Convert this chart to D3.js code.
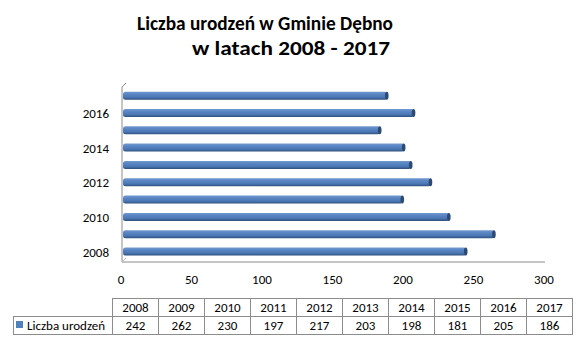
<!DOCTYPE html>
<html lang="pl">
<head>
<meta charset="UTF-8">
<title>Liczba urodzeń w Gminie Dębno</title>
<script src="https://cdn.jsdelivr.net/npm/d3@7"></script>
<style>
  body { margin: 0; background: #fff; }
  text { font-family: Carlito, Lato, "Liberation Sans", sans-serif; fill: #000; }
</style>
</head>
<body>
<div id="chart"></div>
<script>
    // Data
    const years = ["2008", "2009", "2010", "2011", "2012", "2013", "2014", "2015", "2016", "2017"];
    const births = [242, 262, 230, 197, 217, 203, 198, 181, 205, 186];
    const xTicks = [0, 50, 100, 150, 200, 250, 300];
    const yLabels = ["2008", "2010", "2012", "2014", "2016"];
    const seriesName = "Liczba urodzeń";

    const W = 586, H = 350;
    const fs = 13;
    const svg = d3.select("#chart").append("svg")
        .attr("width", W).attr("height", H);

    // gradient for the cylinder-like bars
    const defs = svg.append("defs");
    const grad = defs.append("linearGradient")
        .attr("id", "barGrad").attr("x1", 0).attr("y1", 0).attr("x2", 0).attr("y2", 1);
    grad.append("stop").attr("offset", "0%").attr("stop-color", "#7399d0");
    grad.append("stop").attr("offset", "30%").attr("stop-color", "#5a86c4");
    grad.append("stop").attr("offset", "70%").attr("stop-color", "#4a77b4");
    grad.append("stop").attr("offset", "100%").attr("stop-color", "#2f4f7a");

    // Title (widths)
    svg.append("text").attr("x", 137).attr("y", 30)
        .attr("font-size", 20).attr("font-weight", "bold")
        .attr("textLength", 256).attr("lengthAdjust", "spacingAndGlyphs")
        .text("Liczba urodzeń w Gminie Dębno");
    svg.append("text").attr("x", 192).attr("y", 55)
        .attr("font-size", 20).attr("font-weight", "bold")
        .attr("textLength", 198).attr("lengthAdjust", "spacingAndGlyphs")
        .text("w latach 2008 - 2017");

    // Scales
    const x = d3.scaleLinear().domain([0, 300]).range([121, 544]);
    const y = d3.scaleBand().domain(years.slice().reverse()).range([87, 260.2]);
    const depth = 4;
    const barH = 8;

    // back wall + floor
    const g = svg.append("g").attr("fill", "none").attr("stroke", "#8c8c8c").attr("stroke-width", 1);
    g.append("path").attr("d", `M${x(0) + 1},262 L${x(0) + 1},87 L${x(0) + 1 + depth},83`);
    g.append("path").attr("d", `M${x(0) + 1},262 L${x(300) + 1},262`);
    g.append("path").attr("d", `M${x(0) + 1},262 L${x(0) + 1 + depth},258`).attr("stroke", "#bbb");

    // Bars
    const bars = svg.append("g").selectAll("g")
        .data(years.map((yr, i) => ({ year: yr, value: births[i] })))
        .join("g")
        .attr("transform", d => `translate(0,${y(d.year) + y.bandwidth() / 2 - barH / 2})`);

    bars.append("rect")
        .attr("x", x(0) + 2)
        .attr("y", 0)
        .attr("width", d => x(d.value) - x(0) + 2)
        .attr("height", barH)
        .attr("rx", 2.5)
        .attr("fill", "url(#barGrad)");

    bars.append("ellipse")
        .attr("cx", d => x(d.value) + 3.5)
        .attr("cy", barH / 2)
        .attr("rx", 1.8)
        .attr("ry", barH / 2)
        .attr("fill", "#2c4a73");

    // Y labels
    svg.append("g").selectAll("text")
        .data(yLabels)
        .join("text")
        .attr("x", 109)
        .attr("y", d => y(d) + y.bandwidth() / 2 + 5)
        .attr("text-anchor", "end")
        .attr("font-size", fs)
        .text(d => d);

    // X tick labels
    svg.append("g").selectAll("text")
        .data(xTicks)
        .join("text")
        .attr("x", d => x(d))
        .attr("y", 284)
        .attr("text-anchor", "middle")
        .attr("font-size", fs)
        .text(d => d);

    // Data table
    const tLeft = 13, tFirst = 112.5, colW = 46, r0 = 298, rowH = 18;
    const col = d3.scaleBand().domain(years).range([tFirst, tFirst + colW * years.length]);
    const tb = svg.append("g").attr("stroke", "#8c8c8c").attr("fill", "none").attr("shape-rendering", "crispEdges");
    tb.append("line").attr("x1", tFirst).attr("x2", col.range()[1]).attr("y1", r0).attr("y2", r0);
    tb.append("line").attr("x1", tLeft).attr("x2", col.range()[1]).attr("y1", r0 + rowH).attr("y2", r0 + rowH);
    tb.append("line").attr("x1", tLeft).attr("x2", col.range()[1]).attr("y1", r0 + 2 * rowH).attr("y2", r0 + 2 * rowH);
    tb.append("line").attr("x1", tLeft).attr("x2", tLeft).attr("y1", r0 + rowH).attr("y2", r0 + 2 * rowH);
    tb.selectAll(".v").data(years.concat(["end"])).join("line")
        .attr("x1", (d, i) => tFirst + i * colW).attr("x2", (d, i) => tFirst + i * colW)
        .attr("y1", r0).attr("y2", r0 + 2 * rowH);

    svg.append("g").selectAll("text").data(years).join("text")
        .attr("x", d => col(d) + colW / 2).attr("y", r0 + 14)
        .attr("text-anchor", "middle").attr("font-size", fs).text(d => d);
    svg.append("g").selectAll("text").data(births).join("text")
        .attr("x", (d, i) => col(years[i]) + colW / 2).attr("y", r0 + rowH + 14)
        .attr("text-anchor", "middle").attr("font-size", fs).text(d => d);

    svg.append("rect").attr("x", 16).attr("y", r0 + rowH + 5).attr("width", 7).attr("height", 7)
        .attr("fill", "#4f81bd");
    svg.append("text").attr("x", 27).attr("y", r0 + rowH + 14)
        .attr("font-size", fs).text(seriesName);
</script>
</body>
</html>
